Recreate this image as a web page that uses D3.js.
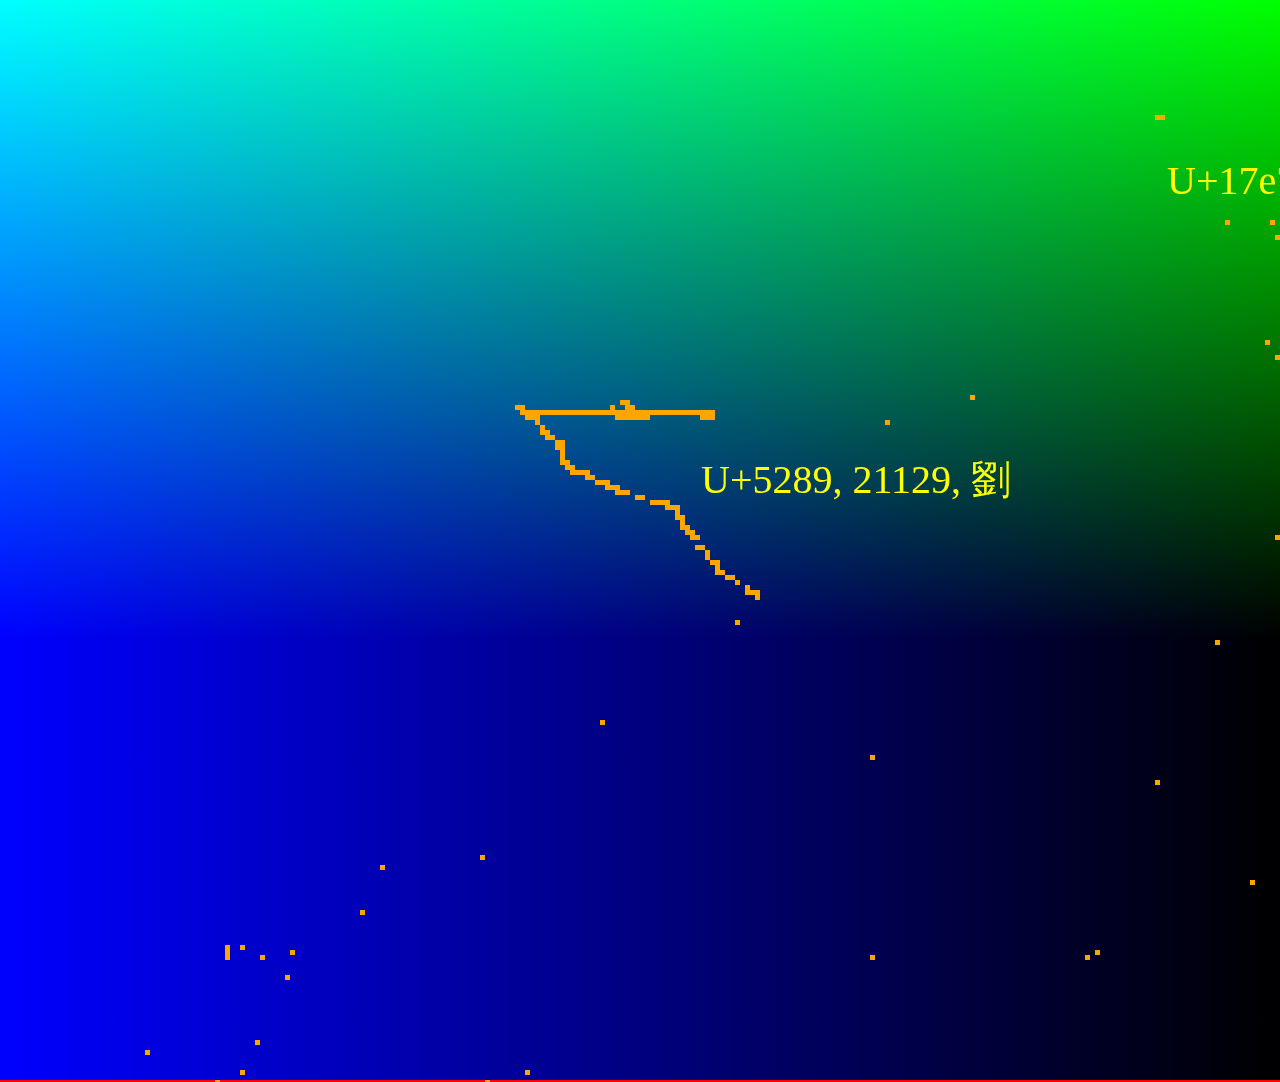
<!DOCTYPE html>
<html>
<head>
<meta charset="utf-8">
<script src="https://cdnjs.cloudflare.com/ajax/libs/d3/7.8.5/d3.min.js"></script>
<style>
  html, body { margin: 0; padding: 0; background: #000; overflow: hidden; }
  svg { display: block; }
</style>
</head>
<body>
<div class="mydiv"></div>
<script>
//----------------------------------------------------- DATA ---------------------------------------------------------

var cols = 256;
var rows = 216;
var greenRows = 128;

// glyph stroke, one entry per run: [row, first col, last col]
var glyphRuns = [
  [80, 124, 125],
  [81, 103, 104], [81, 122, 122], [81, 125, 126],
  [82, 104, 142],
  [83, 105, 107], [83, 123, 129], [83, 140, 142],
  [84, 107, 107],
  [85, 108, 108],
  [86, 108, 109],
  [87, 109, 110],
  [88, 111, 112],
  [89, 111, 112],
  [90, 112, 112],
  [91, 112, 112],
  [92, 112, 113],
  [93, 113, 114],
  [94, 114, 117],
  [95, 117, 118],
  [96, 119, 121],
  [97, 121, 123],
  [98, 123, 125],
  [99, 127, 128],
  [100, 130, 133],
  [101, 133, 135],
  [102, 135, 135],
  [103, 135, 136],
  [104, 136, 136],
  [105, 136, 137],
  [106, 137, 138],
  [107, 138, 139],
  [109, 139, 140],
  [110, 141, 141],
  [111, 141, 141],
  [112, 142, 143],
  [113, 143, 143],
  [114, 143, 144],
  [115, 145, 146],
  [116, 147, 147],
  [117, 149, 149],
  [118, 149, 151],
  [119, 151, 151]
];

// single scattered cells: [col, row]
var dots = [
  [231, 23], [232, 23], [245, 44], [254, 44], [255, 47], [253, 68], [255, 71],
  [255, 107], [243, 128], [250, 176], [194, 79], [177, 84], [147, 124],
  [120, 144], [174, 151], [231, 156], [76, 173], [96, 171], [72, 182],
  [45, 189], [45, 190], [45, 191], [48, 189], [52, 191], [58, 190], [57, 195],
  [174, 191], [217, 191], [219, 190], [29, 210], [51, 208], [48, 214],
  [105, 214], [43, 216], [97, 216]
];

var labelTexts = ["U+5289, 21129, 劉", "U+17e7, 6119, ៧"];
var labelCols = [140.2, 233.4];
var labelRows = [98.65, 38.8];

//----------------------------------------------------- SVG ----------------------------------------------------------

var width = 1280;
var height = 1082;

var x = d3.scaleLinear().domain([0, cols]).range([0, 1280]);
var y = d3.scaleLinear().domain([0, rows]).range([0, 1080]);
var blue = d3.scaleLinear().domain([0, cols]).range([255, 0]);
var green = d3.scaleLinear().domain([0, greenRows]).range([255, 0]).clamp(true);

var cellW = x(1) - x(0);
var cellH = y(1) - y(0);

var svg = d3.select(".mydiv").append("svg")
    .attr("width", width)
    .attr("height", height);

var defs = svg.append("defs");

defs.append("linearGradient")
    .attr("id", "gradX")
    .attr("gradientUnits", "userSpaceOnUse")
    .attr("x1", x(0)).attr("x2", x(cols))
    .attr("y1", 0).attr("y2", 0)
  .selectAll("stop")
    .data([0, cols])
    .enter().append("stop")
    .attr("offset", function(d) { return d / cols; })
    .attr("stop-color", function(d) { return d3.rgb(0, 0, blue(d)); });

defs.append("linearGradient")
    .attr("id", "gradY")
    .attr("gradientUnits", "userSpaceOnUse")
    .attr("x1", 0).attr("x2", 0)
    .attr("y1", y(0)).attr("y2", y(greenRows))
  .selectAll("stop")
    .data([0, greenRows])
    .enter().append("stop")
    .attr("offset", function(d) { return d / greenRows; })
    .attr("stop-color", function(d) { return d3.rgb(0, green(d), 0); });

svg.append("rect")
    .attr("width", width)
    .attr("height", height)
    .attr("fill", "url(#gradX)");

svg.append("rect")
    .attr("width", width)
    .attr("height", height)
    .attr("fill", "url(#gradY)")
    .style("mix-blend-mode", "screen");

// bottom edge line
svg.append("rect")
    .attr("x", 0)
    .attr("y", y(rows))
    .attr("width", width)
    .attr("height", 2)
    .attr("fill", "#ff0000");

// expand the runs into cells
var cells = [];
glyphRuns.forEach(function(r) {
    for (var c = r[1]; c <= r[2]; c++) cells.push([c, r[0]]);
});
dots.forEach(function(d) { cells.push(d); });

svg.append("g")
  .selectAll("rect")
    .data(cells)
    .enter().append("rect")
    .attr("x", function(d) { return x(d[0]); })
    .attr("y", function(d) { return y(d[1]); })
    .attr("width", cellW)
    .attr("height", cellH)
    .attr("fill", "#ffa500")
    .attr("shape-rendering", "crispEdges");

svg.append("g")
  .selectAll("text")
    .data(labelTexts)
    .enter().append("text")
    .attr("x", function(d, i) { return x(labelCols[i]); })
    .attr("y", function(d, i) { return y(labelRows[i]); })
    .attr("fill", "#ffff00")
    .style("font-family", "'Liberation Serif', 'Times New Roman', serif")
    .style("font-size", "40px")
    .text(function(d) { return d; });
</script>
</body>
</html>
